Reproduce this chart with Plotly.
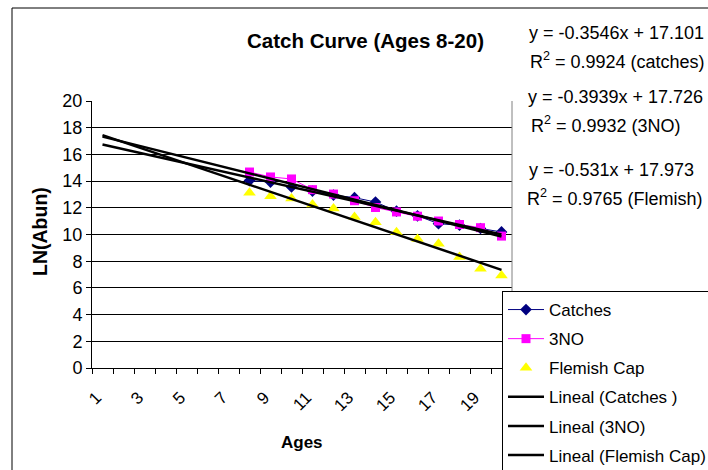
import plotly.graph_objects as go

# ---- data ----
ages = [8, 9, 10, 11, 12, 13, 14, 15, 16, 17, 18, 19, 20]
catches = [14.04, 13.93, 13.56, 13.25, 12.95, 12.76, 12.43, 11.75, 11.40, 10.81, 10.70, 10.45, 10.19]
nafo_3no = [14.68, 14.31, 14.16, 13.36, 13.03, 12.53, 12.02, 11.69, 11.37, 11.01, 10.75, 10.51, 9.88]
flemish_cap = [13.13, 12.86, 12.70, 12.24, 11.94, 11.31, 10.91, 10.16, 9.66, 9.31, 8.32, 7.44, 6.92]

trend_names = ["Lineal (Catches )", "Lineal (3NO)", "Lineal (Flemish Cap)"]
trend_slopes = [-0.3546, -0.3939, -0.531]
trend_intercepts = [17.101, 17.726, 17.973]
trend_x = [1, 20]

eq_lines = ["y = -0.3546x + 17.101", "R<sup>2</sup> = 0.9924 (catches)",
            "y = -0.3939x + 17.726", "R<sup>2</sup> = 0.9932 (3NO)",
            "y = -0.531x + 17.973", "R<sup>2</sup> = 0.9765 (Flemish)"]

x_tick_vals = list(range(1, 21, 2))
x_tick_text = [str(v) for v in x_tick_vals]

FONT = "Liberation Sans, Arial, sans-serif"
W, H = 708, 470
ML, MR, MT, MB = 92, 196, 101, 102
PW, PH = W - ML - MR, H - MT - MB

def px_x(px):
    return (px - ML) / PW

def px_y(py):
    return (H - MB - py) / PH

fig = go.Figure()

fig.add_trace(go.Scatter(x=ages, y=catches, name="Catches", mode="lines+markers",
                         line=dict(color="#000080", width=1),
                         marker=dict(symbol="diamond", size=9, color="#000080"),
                         legendgroup="a"))
fig.add_trace(go.Scatter(x=ages, y=nafo_3no, name="3NO", mode="lines+markers",
                         line=dict(color="#FF00FF", width=1),
                         marker=dict(symbol="square", size=9, color="#FF00FF"),
                         legendgroup="b"))
fig.add_trace(go.Scatter(x=ages, y=flemish_cap, name="Flemish Cap", mode="markers",
                         marker=dict(symbol="triangle-up", size=11, color="#FFFF00"),
                         legendgroup="c"))

for i, (nm, m, b) in enumerate(zip(trend_names, trend_slopes, trend_intercepts)):
    fig.add_trace(go.Scatter(x=trend_x, y=[m * x + b for x in trend_x], name=nm,
                             mode="lines", line=dict(color="black", width=2.5),
                             legendgroup="t%d" % i))

# equation texts
eq_centers_x = [616, 617, 615, 606, 611, 615]
eq_centers_y = [33, 60, 97, 124, 170, 197]
for t, cx, cy in zip(eq_lines, eq_centers_x, eq_centers_y):
    fig.add_annotation(x=px_x(cx), y=px_y(cy), xref="paper", yref="paper", text=t,
                       showarrow=False, xanchor="center", yanchor="middle",
                       font=dict(family=FONT, size=18, color="black"))

# title
fig.add_annotation(x=px_x(365), y=px_y(41), xref="paper", yref="paper",
                   text="<b>Catch Curve (Ages 8-20)</b>", showarrow=False,
                   xanchor="center", yanchor="middle",
                   font=dict(family=FONT, size=20.5, color="black"))
# axis titles
fig.add_annotation(x=px_x(40), y=px_y(232), xref="paper", yref="paper",
                   text="<b>LN(Abun)</b>", showarrow=False, textangle=-90,
                   xanchor="center", yanchor="middle",
                   font=dict(family=FONT, size=19.5, color="black"))
fig.add_annotation(x=px_x(302), y=px_y(442), xref="paper", yref="paper",
                   text="<b>Ages</b>", showarrow=False,
                   xanchor="center", yanchor="middle",
                   font=dict(family=FONT, size=17, color="black"))

# chart-area border (extends off-canvas on right/bottom)
fig.add_shape(type="rect", xref="paper", yref="paper",
              x0=px_x(12), x1=px_x(760), y0=px_y(520), y1=px_y(8),
              line=dict(color="black", width=1), fillcolor="rgba(0,0,0,0)", layer="below")
# plot-area right border
fig.add_shape(type="line", xref="paper", yref="paper", x0=1, x1=1, y0=0, y1=1,
              line=dict(color="#808080", width=1))

fig.update_layout(
    width=W, height=H,
    margin=dict(l=ML, r=MR, t=MT, b=MB, autoexpand=False),
    paper_bgcolor="white", plot_bgcolor="white",
    font=dict(family=FONT, size=17, color="black"),
    showlegend=True,
    legend=dict(x=px_x(502), y=px_y(291), xanchor="left", yanchor="top",
                bgcolor="white", bordercolor="black", borderwidth=1,
                font=dict(family=FONT, size=17, color="black"),
                itemwidth=36,
                traceorder="grouped", tracegroupgap=4),
    xaxis=dict(range=[0.5, 20.5], tickmode="array", tickvals=x_tick_vals,
               ticktext=x_tick_text, tickangle=-45, ticks="",
               ticklabelstandoff=12, ticklabelshift=-6,
               showgrid=False, zeroline=False, showline=True, linecolor="black",
               tickfont=dict(family=FONT, size=17),
               minor=dict(tick0=0.5, dtick=1, ticks="outside", ticklen=5,
                          tickcolor="black", showgrid=False)),
    yaxis=dict(range=[0, 20], dtick=2, tick0=0, ticks="outside", ticklen=5,
               tickcolor="black", showgrid=True, gridcolor="black", gridwidth=1,
               zeroline=False, showline=True, linecolor="black",
               tickfont=dict(family=FONT, size=18)),
)

fig.write_html("out.html")
